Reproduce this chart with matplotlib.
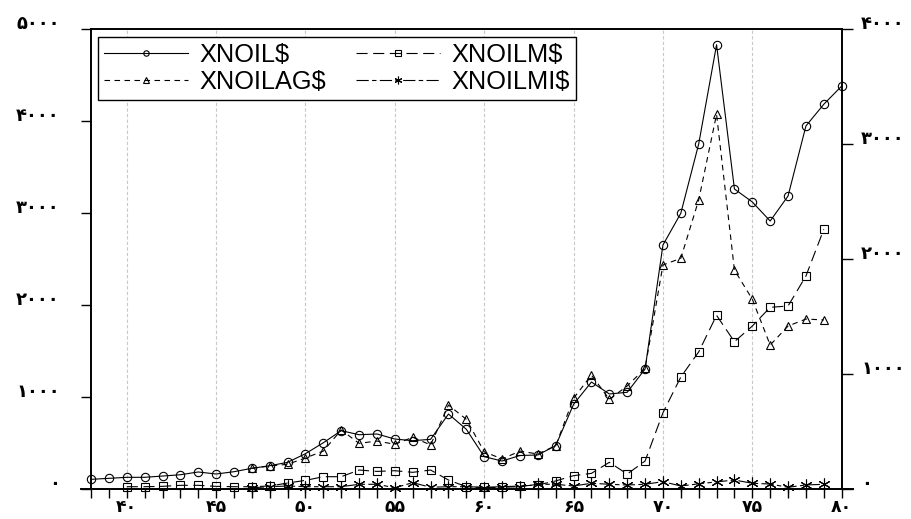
import matplotlib
matplotlib.use('Agg')
import matplotlib.pyplot as plt
from matplotlib.lines import Line2D
from matplotlib.transforms import ScaledTranslation

# years (short form, 13xx)
years = list(range(38, 81))
xnoil = [105, 116, 127, 127, 141, 155, 185, 163, 188, 225, 253, 290, 384,
         503, 634, 590, 598, 543, 525, 540, 815, 649, 351,
         304, 364, 370, 471, 921, 1163, 1033, 1051, 1304, 2652,
         2997, 3750, 4829, 3261, 3120, 2913, 3185, 3946, 4182, 4380]

ag_years = list(range(47, 80))
xnoilag = [180, 200, 215, 270, 330, 513, 397, 417, 389, 450, 383, 730, 606,
           324, 261, 330, 304, 377, 789, 991, 780, 896, 1049, 1948,
           2006, 2513, 3258, 1904, 1650, 1252, 1417, 1478, 1470]

m_years = list(range(40, 80))
xnoilm = [20, 20, 23, 32, 32, 23, 20, 20, 26, 52, 75, 107, 107, 165, 153,
          159, 145, 165, 78, 20, 15, 20, 26, 35, 70, 116, 136, 232, 130,
          243, 663, 974, 1192, 1510, 1281, 1417, 1580, 1591, 1852, 2258]

mi_years = list(range(47, 80))
xnoilmi = [11, 20, 26, 20, 20, 20, 41, 41, 11, 55, 15, 20, 20, 11, 15, 20,
           41, 41, 26, 50, 41, 35, 41, 64, 26, 45, 62, 78, 50, 43, 15, 35, 41]

left_ticks = [0, 1000, 2000, 3000, 4000, 5000]
right_ticks = [0, 1000, 2000, 3000, 4000]
x_ticks = [40, 45, 50, 55, 60, 65, 70, 75, 80]

DIGITS = '۰۱۲۳۴۵۶۷۸۹'


def fa(n):
    return ''.join(DIGITS[int(c)] for c in str(n))


fig = plt.figure(figsize=(9.11, 5.19), dpi=100)
ax = fig.add_axes([0.0999, 0.0578, 0.824, 0.8863])
ax2 = ax.twinx()

lw = 0.8
mk = dict(markerfacecolor='none', markeredgecolor='black', markeredgewidth=0.8,
          clip_on=False, color='black', linewidth=lw)

l1, = ax.plot(years, xnoil, marker='o', markersize=6, linestyle='-', **mk)
l2, = ax2.plot(ag_years, xnoilag, marker='^', markersize=6,
               linestyle=(0, (5, 4)), **mk)
l3, = ax2.plot(m_years, xnoilm, marker='s', markersize=6,
               linestyle=(0, (10, 5)), **mk)
l4, = ax2.plot(mi_years, xnoilmi, marker=(6, 2, 0), markersize=8.5,
               linestyle=(0, (11, 3, 4, 3)), **mk)

ax.set_xlim(38, 80)
ax.set_ylim(0, 5000)
ax2.set_ylim(0, 4000)

# vertical grid
for x in x_ticks[:-1]:
    ax.axvline(x, color='#c8c8c8', linewidth=0.8, linestyle=(0, (3, 2)), zorder=0)

for a in (ax, ax2):
    for s in a.spines.values():
        s.set_linewidth(1.2)
    a.spines['bottom'].set_visible(False)

# bottom axis line, a bit longer than the frame
ax.add_line(Line2D([-0.0135, 1.0147], [0, 0], transform=ax.transAxes,
                   color='black', linewidth=1.4, clip_on=False))

digit_font = dict(family='DejaVu Sans', fontsize=13, fontweight='bold')

ax.set_xticks(x_ticks)
ax.set_xticks(years, minor=True)
ax.set_xticklabels([fa(v) for v in x_ticks], family='DejaVu Sans',
                   fontsize=12.5, fontweight='bold')
ax.tick_params(axis='x', which='both', direction='out', length=6.5, width=1, pad=0)

ax.set_yticks(left_ticks)
ax.set_yticklabels([fa(v) for v in left_ticks], **digit_font)
ax.tick_params(axis='y', direction='out', length=7.5, width=1, pad=15)

ax2.set_yticks(right_ticks)
ax2.set_yticklabels([fa(v) for v in right_ticks], **digit_font)
ax2.tick_params(axis='y', direction='out', length=8, width=1, pad=6)

shift = ScaledTranslation(0, 5 / 72, fig.dpi_scale_trans)
for lab in ax.get_yticklabels() + ax2.get_yticklabels():
    lab.set_transform(lab.get_transform() + shift)

leg = ax2.legend([l1, l2, l3, l4], ['XNOIL$', 'XNOILAG$', 'XNOILM$', 'XNOILMI$'],
                 ncol=2, loc='upper left', bbox_to_anchor=(0.0093, 0.983),
                 borderaxespad=0, prop={'family': 'Liberation Sans', 'size': 18.3},
                 handlelength=3.3, handletextpad=0.43, columnspacing=1.2,
                 labelspacing=0.1, borderpad=0.25, markerscale=0.65,
                 fancybox=False, framealpha=1, edgecolor='black')
leg.get_frame().set_linewidth(1.0)

fig.savefig('out.png', dpi=100)
